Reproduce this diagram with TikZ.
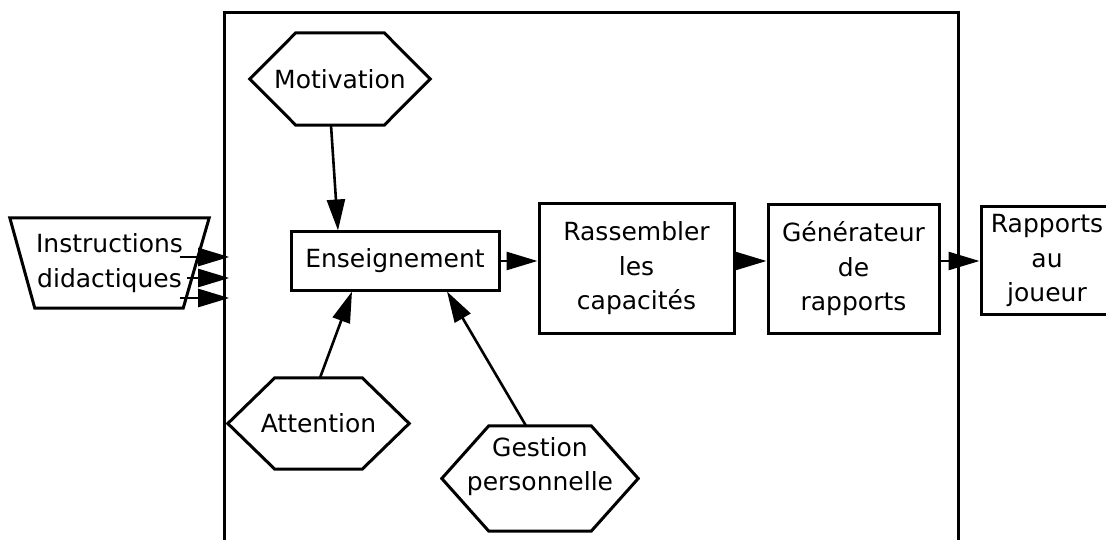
\documentclass[tikz,border=0pt]{standalone}
\usepackage{fontspec}
\setmainfont{DejaVu Sans}
\usetikzlibrary{arrows.meta,calc}
\newcommand\mainfs{\fontsize{25}{34.5}\selectfont}
\newcommand\hexpath[2]{\draw[hexline] (#1.west) -- ([xshift=#2pt]#1.north west) -- ([xshift=-#2pt]#1.north east) -- (#1.east) -- ([xshift=-#2pt]#1.south east) -- ([xshift=#2pt]#1.south west) -- cycle;}
\begin{document}
\begin{tikzpicture}[x=1pt,y=-1pt,
  lw/.style={line width=3pt},
  box/.style={draw,lw,rectangle,inner sep=0pt,align=center,font=\mainfs},
  hexin/.style={rectangle,inner sep=0pt,align=center,font=\mainfs},
  hexline/.style={lw,line join=miter},
  arr/.style={line width=2.6pt,-{Triangle[length=31pt,width=18pt]}},
]
\useasboundingbox (0,0) rectangle (1106,540);
% frame
\draw[lw] (224,548) -- (224,13) -- (958,13) -- (958,548);

% boxes
\node[box,minimum width=208,minimum height=58] (ens) at (395,261) {Enseignement};
\node[box,minimum width=195,minimum height=129] (ras) at (636.5,268.5) {Rassembler\\les\\capacités};
\node[box,minimum width=171,minimum height=128] (gen) at (853.5,269) {Générateur\\de\\rapports};
\node[box,minimum width=132,minimum height=107] (rap) at (1047,260.5) {Rapports\\au\\joueur};

% hexagons
\node[hexin,minimum width=180,minimum height=92] (mot) at (340,79) {Motivation};
\hexpath{mot}{46}
\node[hexin,minimum width=181,minimum height=91] (att) at (318.5,423.5) {Attention};
\hexpath{att}{47}
\node[hexin,minimum width=196,minimum height=105,label={[hexin,yshift=12pt]center:Gestion\\personnelle}] (ges) at (540,478.5) {};
\hexpath{ges}{47}

% trapezoid
\node[hexin,minimum width=199,minimum height=90] (ins) at (109.5,263) {Instructions\\didactiques};
\draw[hexline] (ins.north west) -- (ins.north east) -- ([xshift=-26pt]ins.south east) -- ([xshift=25pt]ins.south west) -- cycle;

% input arrows
\coordinate (s1) at ($(ins.east)+(-29,-6)$);
\coordinate (e1) at ($(ins.east)+(20,-6)$);
\coordinate (s2) at ($(ins.east)+(-22,15)$);
\coordinate (e2) at ($(ins.east)+(20,15)$);
\coordinate (s3) at ($(ins.east)+(-29,35)$);
\coordinate (e3) at ($(ins.east)+(20,35)$);
\draw[arr] (s1) -- (e1);
\draw[arr] (s2) -- (e2);
\draw[arr] (s3) -- (e3);

% flow arrows
\draw[arr] (ens.east) -- (ras.west|-ens.east);
\draw[arr] (ras.east|-ens.east) -- (gen.west|-ens.east);
\draw[arr] (gen.east|-ens.east) -- (rap.west|-ens.east);

\draw[arr] ([xshift=-9pt]mot.south) -- ([xshift=-57pt]ens.north);
\draw[arr] ([xshift=1.5pt]att.north) -- ([xshift=-43pt]ens.south);
\draw[arr] ([xshift=-14pt]ges.north) -- ([xshift=52pt]ens.south);
\end{tikzpicture}
\end{document}
